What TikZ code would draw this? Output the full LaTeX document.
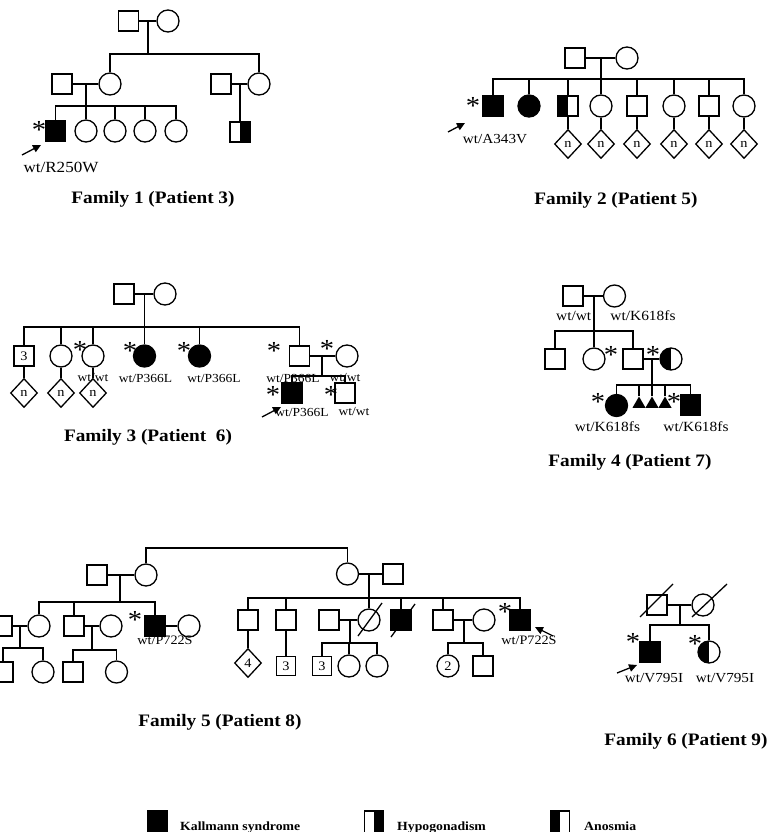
\documentclass[tikz,border=0pt]{standalone}
\usepackage{fontspec}
\setmainfont[FakeStretch=1.1]{Liberation Serif}
\usetikzlibrary{shapes.geometric,arrows.meta,calc}
\begin{document}
\begin{tikzpicture}[x=1pt,y=-1pt,
 every node/.style={inner sep=0pt},
 rel/.style={line width=1.3pt},
 sq/.style={draw,line width=1.3pt,minimum size=20pt,inner sep=0pt},
 ci/.style={circle,draw,line width=1.3pt,minimum size=22pt,inner sep=0pt},
 dm/.style={diamond,draw,line width=1.3pt,minimum width=27pt,minimum height=29pt,inner sep=0pt,font=\fontsize{13}{13}\selectfont},
 aff/.style={fill=black},
 rhalf/.style={path picture={\fill[black] (path picture bounding box.north) rectangle (path picture bounding box.south east);}},
 lhalf/.style={path picture={\fill[black] (path picture bounding box.north west) rectangle (path picture bounding box.south);}},
 tri/.style={regular polygon,regular polygon sides=3,fill=black,minimum size=15pt,inner sep=0pt},
 ast/.style={font=\fontsize{26}{26}\selectfont,yshift=-4.5pt},
 ttl/.style={font=\fontsize{17.5}{18}\selectfont\bfseries},
 lab/.style={font=\fontsize{#1}{#1}\selectfont},
 num/.style={font=\fontsize{13}{13}\selectfont},
 arr/.style={line width=1.3pt,-{Triangle[length=8pt,width=7.5pt]}},
 lgt/.style={font=\fontsize{12.5}{13}\selectfont\bfseries,anchor=base west},
]
\useasboundingbox (0,0) rectangle (776,832);

% ---------------- Family 1
\node[sq] (f1gf) at (128.5,21) {};
\node[ci] (f1gm) at (168,21) {};
\draw[rel] (f1gf) -- (f1gm);
\coordinate (f1j) at (148,21);
\coordinate (f1s) at (148,54);
\draw[rel] (f1j) -- (f1s);
\node[sq] (f1f) at (62,84) {};
\node[ci] (f1m) at (110,84) {};
\node[sq] (f1u) at (221,84) {};
\node[ci] (f1a) at (259,84) {};
\draw[rel] (f1m.north) -- (f1m.north |- f1s) -- (f1a.north |- f1s) -- (f1a.north);
\draw[rel] (f1f) -- (f1m);
\draw[rel] (f1u) -- (f1a);
\coordinate (f1s2) at (86,106);
\node[sq,aff] (f1p) at (55.5,131) {};
\node[ci] (f1c1) at (86,131) {};
\node[ci] (f1c2) at (115,131) {};
\node[ci] (f1c3) at (145,131) {};
\node[ci] (f1c4) at (176,131) {};
\draw[rel] (f1c1.north |- f1f) -- (f1c1.north);
\draw[rel] (f1p.north) -- (f1p.north |- f1s2) -- (f1c4.north |- f1s2) -- (f1c4.north);
\foreach \n in {f1c2,f1c3} \draw[rel] (\n.north) -- (\n.north |- f1s2);
\node[sq,rhalf] (f1h) at (240,132) {};
\draw[rel] (f1h.north |- f1u) -- (f1h.north);
\node[ast] (f1x) at (39,125) {*};
\coordinate (f1t0) at (22,155);
\coordinate (f1t1) at (41,145);
\draw[arr] (f1t0) -- (f1t1);
\node[lab=15.5] (f1l) at (61,167) {wt/R250W};
\node[ttl] (f1n) at (153,199) {Family 1 (Patient 3)};

% ---------------- Family 2
\node[sq] (f2f) at (575,58) {};
\node[ci] (f2m) at (627,58) {};
\draw[rel] (f2f) -- (f2m);
\coordinate (f2s) at (601,79);
\node[sq,aff] (f2a) at (493,106) {};
\node[ci,aff] (f2b) at (529,106) {};
\node[sq,lhalf] (f2c) at (568,106) {};
\node[ci] (f2d) at (601,106) {};
\node[sq] (f2e) at (637,106) {};
\node[ci] (f2g) at (674,106) {};
\node[sq] (f2h) at (709,106) {};
\node[ci] (f2i) at (744,106) {};
\draw[rel] (f2d.north |- f2f) -- (f2d.north);
\draw[rel] (f2a.north) -- (f2a.north |- f2s) -- (f2i.north |- f2s) -- (f2i.north);
\foreach \n in {f2b,f2c,f2e,f2g,f2h} \draw[rel] (\n.north) -- (\n.north |- f2s);
\foreach \n/\x in {c/568,d/601,e/637,g/674,h/709,i/744}{
  \node[dm] (f2n\n) at (\x,144) {n};
  \draw[rel] (f2\n) -- (f2n\n);
}
\node[ast] (f2x) at (473,101) {*};
\coordinate (f2t0) at (448,132);
\coordinate (f2t1) at (465,123);
\draw[arr] (f2t0) -- (f2t1);
\node[lab=13.8] (f2l) at (495,139) {wt/A343V};
\node[ttl] (f2n) at (616,200) {Family 2 (Patient 5)};

% ---------------- Family 3
\node[sq] (f3f) at (124,294) {};
\node[ci] (f3m) at (165,294) {};
\draw[rel] (f3f) -- (f3m);
\coordinate (f3s) at (144.5,327);
\node[sq,num] (f3a) at (24,356) {3};
\node[ci] (f3b) at (61,356) {};
\node[ci] (f3c) at (93,356) {};
\node[ci,aff] (f3d) at (144.5,356) {};
\node[ci,aff] (f3e) at (199.5,356) {};
\node[sq] (f3g) at (299.5,356) {};
\draw[rel] (f3d.north |- f3f) -- (f3d.north);
\draw[rel] (f3a.north) -- (f3a.north |- f3s) -- (f3g.north |- f3s) -- (f3g.north);
\foreach \n in {f3b,f3c,f3e} \draw[rel] (\n.north) -- (\n.north |- f3s);
\foreach \n/\x in {a/24,b/61,c/93}{
  \node[dm] (f3n\n) at (\x,393) {n};
  \draw[rel] (f3\n) -- (f3n\n);
}
\node[ci] (f3w) at (347,356) {};
\draw[rel] (f3g) -- (f3w);
\coordinate (f3s2) at (322,376);
\node[sq,aff] (f3p) at (292,393) {};
\node[sq] (f3q) at (345,393) {};
\draw[rel] (f3s2 |- f3g) -- (f3s2);
\draw[rel] (f3p.north) -- (f3p.north |- f3s2) -- (f3q.north |- f3s2) -- (f3q.north);
\node[ast] at (80,345) {*};
\node[ast] at (130,346) {*};
\node[ast] at (184,346) {*};
\node[ast] at (274,346) {*};
\node[ast] at (327,344) {*};
\node[ast] at (273,390) {*};
\node[ast] at (331,390) {*};
\node[lab=12.3] (f3l1) at (93,378) {wt/wt};
\node[lab=12.3] (f3l2) at (145.5,378) {wt/P366L};
\node[lab=12.3] (f3l3) at (214,378) {wt/P366L};
\node[lab=12.3] (f3l4) at (293,378) {wt/P366L};
\node[lab=12.3] (f3l5) at (345,378) {wt/wt};
\node[lab=12.3] (f3l6) at (302,412) {wt/P366L};
\node[lab=12.3] (f3l7) at (354,412) {wt/wt};
\coordinate (f3t0) at (262,417);
\coordinate (f3t1) at (281,407);
\draw[arr] (f3t0) -- (f3t1);
\node[ttl] (f3n) at (148,437) {Family 3 (Patient~~6)};

% ---------------- Family 4
\node[sq] (f4f) at (573,296) {};
\node[ci] (f4m) at (614.5,296) {};
\draw[rel] (f4f) -- (f4m);
\coordinate (f4s) at (594,331);
\node[lab=14] at (573.7,316) {wt/wt};
\node[lab=14] at (643,316) {wt/K618fs};
\node[sq] (f4a) at (555,359) {};
\node[ci] (f4b) at (594,359) {};
\node[sq] (f4c) at (633,359) {};
\node[ci,lhalf] (f4w) at (671,359) {};
\draw[rel] (f4s |- f4f) -- (f4s);
\draw[rel] (f4a.north) -- (f4a.north |- f4s) -- (f4c.north |- f4s) -- (f4c.north);
\draw[rel] (f4b.north) -- (f4b.north |- f4s);
\draw[rel] (f4c) -- (f4w);
\coordinate (f4s2) at (652,385);
\node[ci,aff] (f4d) at (616.5,405.5) {};
\node[tri] (f4t1) at (639,404) {};
\node[tri] (f4t2) at (652,404) {};
\node[tri] (f4t3) at (665,404) {};
\node[sq,aff] (f4e) at (690.5,405) {};
\draw[rel] (f4s2 |- f4c) -- (f4s2);
\draw[rel] (f4d.north) -- (f4d.north |- f4s2) -- (f4e.north |- f4s2) -- (f4e.north);
\foreach \n in {f4t1,f4t2,f4t3} \draw[rel] (\n.north) -- (\n.north |- f4s2);
\node[ast] at (611,350) {*};
\node[ast] at (653,350) {*};
\node[ast] at (598,397) {*};
\node[ast] at (674,397) {*};
\node[lab=14] at (607.5,427) {wt/K618fs};
\node[lab=14] at (696,427) {wt/K618fs};
\node[ttl] (f4n) at (630,462) {Family 4 (Patient 7)};

% ---------------- Family 5
\node[sq] (f5b) at (97,575) {};
\node[ci] (f5a) at (146,575) {};
\node[ci] (f5r) at (347.5,574) {};
\node[sq] (f5q) at (393,574) {};
\coordinate (f5top) at (146,548);
\draw[rel] (f5a.north) -- (f5top) -- (f5top -| f5r.north) -- (f5r.north);
\draw[rel] (f5b) -- (f5a);
\draw[rel] (f5r) -- (f5q);
% left branch
\coordinate (f5s) at (120,602);
\node[ci] (f5c) at (39,626) {};
\node[sq] (f5d) at (74,626) {};
\node[sq,aff] (f5e) at (155,626) {};
\node[ci] (f5ew) at (189,626) {};
\draw[rel] (f5s |- f5b) -- (f5s);
\draw[rel] (f5c.north) -- (f5c.north |- f5s) -- (f5e.north |- f5s) -- (f5e.north);
\draw[rel] (f5d.north) -- (f5d.north |- f5s);
\draw[rel] (f5e) -- (f5ew);
\node[sq] (f5ch) at (2,626) {};
\draw[rel] (f5ch) -- (f5c);
\coordinate (f5s1) at (20,648);
\node[sq] (f5c1) at (3,672) {};
\node[ci] (f5c2) at (43,672) {};
\draw[rel] (f5s1 |- f5c) -- (f5s1);
\draw[rel] (f5c1.north) -- (f5c1.north |- f5s1) -- (f5c2.north |- f5s1) -- (f5c2.north);
\node[ci] (f5dw) at (111,626) {};
\draw[rel] (f5d) -- (f5dw);
\coordinate (f5s3) at (92,650);
\node[sq] (f5d1) at (73,672) {};
\node[ci] (f5d2) at (116.5,672) {};
\draw[rel] (f5s3 |- f5d) -- (f5s3);
\draw[rel] (f5d1.north) -- (f5d1.north |- f5s3) -- (f5d2.north |- f5s3) -- (f5d2.north);
\node[ast] at (135,615) {*};
\node[lab=12.9] at (165,640) {wt/P722S};
% right branch
\coordinate (f5s4) at (369,598);
\node[sq] (f5g) at (248,620) {};
\node[sq] (f5h) at (286,620) {};
\node[sq] (f5iw) at (329,620) {};
\node[ci] (f5i) at (369,620) {};
\node[sq,aff] (f5k) at (401,620) {};
\node[sq] (f5m) at (443,620) {};
\node[ci] (f5mw) at (484,620) {};
\node[sq,aff] (f5p) at (520,620) {};
\draw[rel] (f5s4 |- f5r) -- (f5i.north);
\draw[rel] (f5g.north) -- (f5g.north |- f5s4) -- (f5p.north |- f5s4) -- (f5p.north);
\foreach \n in {f5h,f5k,f5m} \draw[rel] (\n.north) -- (\n.north |- f5s4);
\draw[rel] ([shift={(-11,16)}]f5i.center) -- ([shift={(13,-17)}]f5i.center);
\draw[rel] ([shift={(-10,17)}]f5k.center) -- ([shift={(14,-16)}]f5k.center);
\draw[rel] (f5iw) -- (f5i);
\draw[rel] (f5m) -- (f5mw);
\node[dm] (f5g1) at (248,663) {4};
\draw[rel] (f5g) -- (f5g1);
\node[sq,num,minimum size=19pt] (f5h1) at (286,666) {3};
\draw[rel] (f5h) -- (f5h1);
\coordinate (f5s5) at (350,643);
\node[sq,num,minimum size=19pt] (f5i1) at (322,666) {3};
\node[ci] (f5i2) at (349,666) {};
\node[ci] (f5i3) at (377,666) {};
\draw[rel] (f5s5 |- f5i) -- (f5s5);
\draw[rel] (f5i1.north) -- (f5i1.north |- f5s5) -- (f5i3.north |- f5s5) -- (f5i3.north);
\draw[rel] (f5i2.north) -- (f5i2.north |- f5s5);
\coordinate (f5s6) at (464,643);
\node[ci,num] (f5m1) at (448,666) {2};
\node[sq] (f5m2) at (483,666) {};
\draw[rel] (f5s6 |- f5m) -- (f5s6);
\draw[rel] (f5m1.north) -- (f5m1.north |- f5s6) -- (f5m2.north |- f5s6) -- (f5m2.north);
\node[ast] at (505,607) {*};
\coordinate (f5t0) at (553,636);
\coordinate (f5t1) at (535,627);
\draw[arr] (f5t0) -- (f5t1);
\node[lab=12.9] at (529,640) {wt/P722S};
\node[ttl] (f5n) at (220,722) {Family 5 (Patient 8)};

% ---------------- Family 6
\node[sq] (f6f) at (657,605) {};
\node[ci] (f6m) at (703,605) {};
\draw[rel] (f6f) -- (f6m);
\draw[rel] ([shift={(-17,12)}]f6f.center) -- ([shift={(16,-21)}]f6f.center);
\draw[rel] ([shift={(-11,12)}]f6m.center) -- ([shift={(24,-21)}]f6m.center);
\coordinate (f6s) at (680,625);
\node[sq,aff] (f6p) at (650,652) {};
\node[ci,lhalf] (f6d) at (709,652) {};
\draw[rel] (f6s |- f6f) -- (f6s);
\draw[rel] (f6p.north) -- (f6p.north |- f6s) -- (f6d.north |- f6s) -- (f6d.north);
\node[ast] at (633,637) {*};
\node[ast] at (695,639) {*};
\coordinate (f6t0) at (617,673);
\coordinate (f6t1) at (637,665);
\draw[arr] (f6t0) -- (f6t1);
\node[lab=13.8] at (654,678) {wt/V795I};
\node[lab=13.8] at (725,678) {wt/V795I};
\node[ttl] (f6n) at (686,741) {Family 6 (Patient 9)};

% ---------------- Legend
\node[sq,aff,minimum width=19pt,minimum height=24pt] (lg1) at (157.5,823) {};
\node[lgt] (lt1) at (180,830) {Kallmann syndrome};
\node[sq,rhalf,minimum width=19pt,minimum height=24pt] (lg2) at (374,823) {};
\node[lgt] (lt2) at (397,830) {Hypogonadism};
\node[sq,lhalf,minimum width=19pt,minimum height=24pt] (lg3) at (560,823) {};
\node[lgt] (lt3) at (584,830) {Anosmia};
\end{tikzpicture}
\end{document}
